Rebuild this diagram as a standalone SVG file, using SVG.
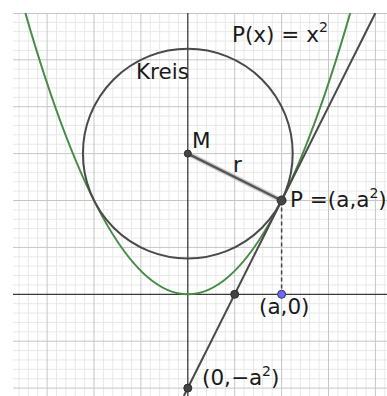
<svg xmlns="http://www.w3.org/2000/svg" width="387" height="396" viewBox="0 0 387 396">
<style>
.minor{stroke:#e8e8e8;stroke-width:1;fill:none}
.major{stroke:#c6c6c6;stroke-width:1;fill:none}
.axis{stroke:#3a3a3a;stroke-width:1.3;fill:none}
.curve{stroke:#4a4a4a;stroke-width:2;fill:none}
.para{stroke:#468c46;stroke-width:2;fill:none}
.pt{fill:#444;stroke:#2a2a2a;stroke-width:1}
.lbl{font-family:"DejaVu Sans",sans-serif;font-size:21.5px;fill:#1a1a1a}
.sup{font-size:14px}
</style>
<defs>
<clipPath id="plot"><rect x="13" y="13" width="374" height="383"/></clipPath>
</defs>
<rect width="387" height="396" fill="#fff"/>
<g id="grid" clip-path="url(#plot)">
<path class="minor" d="M18.96 13V396M28.34 13V396M37.72 13V396M56.48 13V396M65.86 13V396M75.24 13V396M84.62 13V396M103.38 13V396M112.76 13V396M122.14 13V396M131.52 13V396M150.28 13V396M159.66 13V396M169.04 13V396M178.42 13V396M197.18 13V396M206.56 13V396M215.94 13V396M225.32 13V396M244.08 13V396M253.46 13V396M262.84 13V396M272.22 13V396M290.98 13V396M300.36 13V396M309.74 13V396M319.12 13V396M337.88 13V396M347.26 13V396M356.64 13V396M366.02 13V396M384.78 13V396"/>
<path class="minor" d="M13 22.28H387M13 31.66H387M13 41.04H387M13 50.42H387M13 69.18H387M13 78.56H387M13 87.94H387M13 97.32H387M13 116.08H387M13 125.46H387M13 134.84H387M13 144.22H387M13 162.98H387M13 172.36H387M13 181.74H387M13 191.12H387M13 209.88H387M13 219.26H387M13 228.64H387M13 238.02H387M13 256.78H387M13 266.16H387M13 275.54H387M13 284.92H387M13 303.68H387M13 313.06H387M13 322.44H387M13 331.82H387M13 350.58H387M13 359.96H387M13 369.34H387M13 378.72H387"/>
<path class="major" d="M47.1 13V396M94 13V396M140.9 13V396M234.7 13V396M281.6 13V396M328.5 13V396M375.4 13V396"/>
<path class="major" d="M13 13.5H387M13 59.8H387M13 106.7H387M13 153.6H387M13 200.5H387M13 247.4H387M13 341.2H387M13 388.1H387"/>
</g>
<g id="axes">
<path class="axis" d="M13 294.3H387M187.8 13V396"/>
</g>
<g id="curves" clip-path="url(#plot)">
<path id="parabola" class="para" d="M25.35 13Q187.8 575.7 350.25 13"/>
<circle id="kreis" class="curve" cx="187.8" cy="153.6" r="104.9"/>
<path id="tangente" class="curve" d="M183.8 396L375.4 13"/>
</g>
<g id="connectors">
<path d="M187.8 153.6L281.6 200.5" stroke="#bdbdbd" stroke-width="5" stroke-linecap="round" fill="none" opacity="0.7"/>
<path d="M187.8 153.6L281.6 200.5" stroke="#555" stroke-width="2.5" fill="none"/>
<path d="M281.6 200.5V294.3" stroke="#444" stroke-width="1.5" stroke-dasharray="4 3" fill="none"/>
</g>
<g id="node-M"><circle class="pt" cx="187.8" cy="153.6" r="3.5"/><text class="lbl" x="192" y="147.5">M</text></g>
<g id="node-r"><text class="lbl" x="233" y="172">r</text></g>
<g id="node-P"><circle class="pt" cx="281.6" cy="200.5" r="4.5"/><text class="lbl" x="290" y="207">P =(a,a<tspan class="sup" dy="-9">2</tspan><tspan dy="9">)</tspan></text></g>
<g id="node-x0"><circle class="pt" cx="234.7" cy="294.3" r="4"/></g>
<g id="node-a0"><circle cx="281.6" cy="294.3" r="4" fill="#6b6bf5" stroke="#33336b" stroke-width="1"/><text class="lbl" x="259" y="314">(a,0)</text></g>
<g id="node-0a"><circle class="pt" cx="187.8" cy="388.1" r="4"/><text class="lbl" x="202" y="384.5">(0,−a<tspan class="sup" dy="-9">2</tspan><tspan dy="9">)</tspan></text></g>
<g id="label-kreis"><text class="lbl" x="136" y="79">Kreis</text></g>
<g id="label-func"><text class="lbl" x="232" y="42">P(x) = x<tspan class="sup" dy="-10">2</tspan></text></g>
</svg>
